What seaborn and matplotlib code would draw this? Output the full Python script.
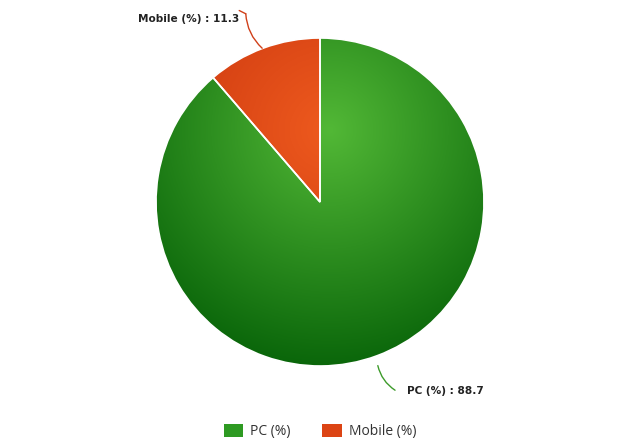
import numpy as np
import matplotlib.pyplot as plt
from matplotlib.colors import LinearSegmentedColormap
import seaborn as sns

labels = ['PC (%)', 'Mobile (%)']
values = [88.7, 11.3]
inner_colors = ['#52b836', '#ee5a1e']
outer_colors = ['#0a660a', '#c4300c']

sns.set_style("white")
plt.rcParams['font.family'] = ['Liberation Sans', 'DejaVu Sans']

fig = plt.figure(figsize=(6.4, 4.41), dpi=100)
ax = fig.add_axes([0, 0, 1, 1])

wedges, _ = ax.pie(values, startangle=90, counterclock=False,
                   colors=inner_colors, radius=1,
                   wedgeprops=dict(edgecolor='white', linewidth=1.2))

# radial gradient fill clipped to each wedge
xx, yy = np.meshgrid(np.linspace(-1, 1, 400), np.linspace(-1, 1, 400))
dist = np.sqrt((xx - 0.06) ** 2 + (yy - 0.44) ** 2) / 1.45
dist = np.clip(dist, 0, 1)
for w, c0, c1 in zip(wedges, inner_colors, outer_colors):
    cmap = LinearSegmentedColormap.from_list('g', [c0, c1])
    im = ax.imshow(dist, cmap=cmap, extent=(-1, 1, -1, 1), origin='lower',
                   vmin=0, vmax=1, zorder=w.get_zorder() + 0.1)
    im.set_clip_path(w)
    w.set_facecolor('none')
    w.set_zorder(w.get_zorder() + 0.2)

# leader lines and labels
line_colors = ['#3d9b2b', '#d0401a']
for w, lab, v, lc in zip(wedges, labels, values, line_colors):
    ang = np.deg2rad((w.theta1 + w.theta2) / 2)
    x0, y0 = np.cos(ang), np.sin(ang)
    if x0 < 0:
        xs, ys = x0 - 0.005, y0 + 0.0
        xt, yt = x0 - 0.105, y0 + 0.21
        ax.annotate('', xy=(xs, ys), xytext=(xt, yt),
                    arrowprops=dict(arrowstyle='-', color=lc, lw=1,
                                    connectionstyle='arc3,rad=0.2',
                                    shrinkA=0, shrinkB=0))
        ax.plot([xt, xt - 0.04], [yt, yt + 0.02], color=lc, lw=1,
                solid_capstyle='round')
        ax.text(x0 - 0.147, y0 + 0.178, '%s : %.1f' % (lab, v), ha='right',
                va='center', fontsize=7.6, fontweight='bold', color='#222222',
                family='DejaVu Sans')
    else:
        xs, ys = x0 + 0.005, y0 - 0.06
        xt, yt = x0 + 0.11, y0 - 0.21
        ax.annotate('', xy=(xs, ys), xytext=(xt, yt),
                    arrowprops=dict(arrowstyle='-', color=lc, lw=1,
                                    connectionstyle='arc3,rad=-0.2',
                                    shrinkA=0, shrinkB=0))
        ax.text(x0 + 0.183, y0 - 0.214, '%s : %.1f' % (lab, v), ha='left',
                va='center', fontsize=7.6, fontweight='bold', color='#222222',
                family='DejaVu Sans')

ax.set_xlim(-320 / 164, 320 / 164)
ax.set_ylim(-239 / 164, 202 / 164)
ax.set_aspect('equal')
ax.axis('off')

handles = [plt.Rectangle((0, 0), 1, 1, facecolor=c, edgecolor='none')
           for c in ['#2e9a22', '#dc4414']]
fig.legend(handles, labels, loc='center', ncol=2, frameon=False,
           bbox_to_anchor=(0.5, 9.5 / 441), handlelength=1.4,
           handleheight=1.1, handletextpad=0.5, columnspacing=2.3,
           labelcolor='#333333',
           prop={'family': ['Open Sans', 'DejaVu Sans'], 'size': 10})

fig.savefig('out.png', dpi=100)
